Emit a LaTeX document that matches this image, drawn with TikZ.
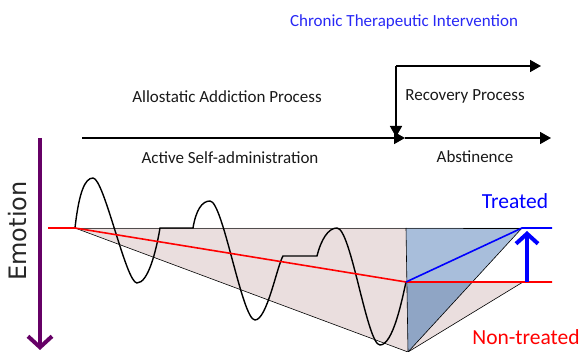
\documentclass[tikz,border=0pt]{standalone}
\usepackage{fontspec}
\setmainfont{Carlito}
\newfontfamily\axisfont{DejaVu Sans}
\usetikzlibrary{arrows.meta}
\definecolor{phasefill}{RGB}{234,222,222}
\definecolor{treatfill}{RGB}{168,190,219}
\definecolor{overlapfill}{RGB}{143,165,197}
\definecolor{emopurple}{RGB}{102,0,102}
\definecolor{intblue}{RGB}{40,40,245}
\tikzset{
  timeline/.style={line width=1.6pt,-{Triangle[length=11pt,width=12pt]}},
  label/.style={font=\fontsize{17}{19}\selectfont,text=black!90,inner sep=0pt},
  outcome/.style={font=\fontsize{21.5}{24}\selectfont,inner sep=0pt},
  edge/.style={line width=0.6pt,draw=black},
  wave/.style={line width=1.4pt,draw=black},
  trend/.style={line width=1.6pt,draw=red},
}
\begin{document}
\begin{tikzpicture}[x=1pt,y=-1pt]
\useasboundingbox (0,0) rectangle (581,352);

% key points of the emotional-state sketch
\coordinate (start)  at (75,228);
\coordinate (lead)   at (48,228);
\coordinate (topend) at (406,228);
\coordinate (split)  at (406,282);
\coordinate (low)    at (408,352);
\coordinate (treat)  at (522,228);
\coordinate (untreat) at (523,282);
\coordinate (treatR) at (552,228);
\coordinate (untreatR) at (552,282);

% shaded regions
\fill[phasefill] (start) -- (topend) -- (low) -- cycle;
\fill[phasefill] (split) -- (untreat) -- (low) -- cycle;
\fill[treatfill] (topend) -- (treat) -- (low) -- cycle;
\begin{scope}
  \clip (topend) -- (treat) -- (low) -- cycle;
  \fill[overlapfill] (split) -- (untreat) -- (low) -- cycle;
\end{scope}
\draw[edge] (start) -- (topend) -- (treat);
\draw[edge] (start) -- (low);
\draw[edge] (topend) -- (low);
\draw[edge] (treat) -- (low);
\draw[edge] (untreat) -- (low);
\draw[edge] (split) -- (untreat);

% oscillating response during active self-administration
\draw[wave] (start)
  .. controls (79,192) and (85,178) .. (93,178)
  .. controls (104,178) and (126,283) .. (137,283)
  .. controls (148,283) and (156,252) .. (160,228)
  -- (193,228)
  .. controls (196,210) and (202,201) .. (210,201)
  .. controls (223,201) and (242,320) .. (255,320)
  .. controls (267,320) and (277,266) .. (283,256)
  -- (317,256)
  .. controls (321,240) and (328,228) .. (337,228)
  .. controls (351,228) and (367,345) .. (380,345)
  .. controls (393,345) and (402,300) .. (split);

% hedonic set point and its two outcomes
\draw[trend] (lead) -- (start) -- (split) -- (untreatR);
\draw[line width=1.6pt,draw=blue] (split) -- (treat) -- (treatR);
\coordinate (liftBase) at (527,282);
\coordinate (liftTip)  at (527,231);
\draw[line width=4pt,blue,-{Straight Barb[length=10pt,width=22pt,line width=4pt]}] (liftBase) -- (liftTip);

% emotion axis
\coordinate (emoTop) at (40,138);
\coordinate (emoBot) at (40,350);
\draw[line width=4pt,emopurple,-{Straight Barb[length=11pt,width=24pt,line width=4pt]}] (emoTop) -- (emoBot);
\node[font=\axisfont\fontsize{24}{26}\selectfont,text=black!85,rotate=90,inner sep=0pt] (emotion) at (18,231) {Emotion};

% timelines
\coordinate (tlStart) at (82,138);
\coordinate (tlMid)   at (405,138);
\coordinate (tlEnd)   at (551,138);
\coordinate (recTop)  at (396,66);
\coordinate (recEnd)  at (541,66);
\coordinate (recDrop) at (396,137);
\draw[timeline] (tlStart) -- (tlMid);
\draw[timeline] (tlMid) -- (tlEnd);
\draw[timeline] (recTop) -- (recEnd);
\draw[timeline] (recTop) -- (recDrop);

% labels
\node[label,text=intblue] (cti) at (404,22) {Chronic Therapeutic Intervention};
\node[label] (allo) at (227,97) {Allostatic Addiction Process};
\node[label] (recov) at (465,96) {Recovery Process};
\node[label] (active) at (230,158) {Active Self-administration};
\node[label] (abst) at (475,157) {Abstinence};
\node[outcome,text=blue] (treated) at (515,201) {Treated};
\node[outcome,text=red] (nontreated) at (526,337) {Non-treated};
\end{tikzpicture}
\end{document}
